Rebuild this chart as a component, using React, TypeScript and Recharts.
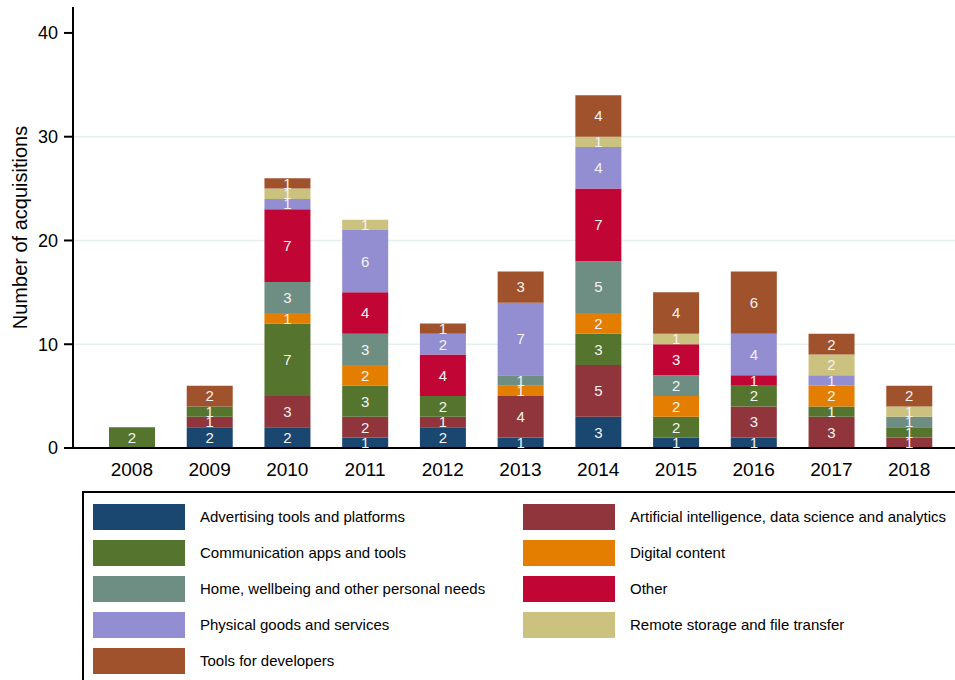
import React from 'react';
import { BarChart, Bar, XAxis, YAxis, CartesianGrid, LabelList } from 'recharts';

const years = ['2008', '2009', '2010', '2011', '2012', '2013', '2014', '2015', '2016', '2017', '2018'];

// one array per category, one value per year (0 = none that year)
const advertising = [0, 2, 2, 1, 2, 1, 3, 1, 1, 0, 0];
const aiData = [0, 1, 3, 2, 1, 4, 5, 0, 3, 3, 1];
const communication = [2, 1, 7, 3, 2, 0, 3, 2, 2, 1, 1];
const digital = [0, 0, 1, 2, 0, 1, 2, 2, 0, 2, 0];
const home = [0, 0, 3, 3, 0, 1, 5, 2, 0, 0, 1];
const other = [0, 0, 7, 4, 4, 0, 7, 3, 1, 0, 0];
const physical = [0, 0, 1, 6, 2, 7, 4, 0, 4, 1, 0];
const remote = [0, 0, 1, 1, 0, 0, 1, 1, 0, 2, 1];
const tools = [0, 2, 1, 0, 1, 3, 4, 4, 6, 2, 2];

const yTicks = [0, 10, 20, 30, 40];

const series = [
  { key: 'adv', name: 'Advertising tools and platforms', color: '#1a476f', values: advertising },
  { key: 'ai', name: 'Artificial intelligence, data science and analytics', color: '#90353b', values: aiData },
  { key: 'comm', name: 'Communication apps and tools', color: '#55752f', values: communication },
  { key: 'digital', name: 'Digital content', color: '#e37e00', values: digital },
  { key: 'home', name: 'Home, wellbeing and other personal needs', color: '#6e8e84', values: home },
  { key: 'other', name: 'Other', color: '#c10534', values: other },
  { key: 'phys', name: 'Physical goods and services', color: '#938dd2', values: physical },
  { key: 'remote', name: 'Remote storage and file transfer', color: '#cac27e', values: remote },
  { key: 'tools', name: 'Tools for developers', color: '#a0522d', values: tools },
];

const data = years.map((year, i) => {
  const row: Record<string, string | number> = { year };
  series.forEach((s) => {
    row[s.key] = s.values[i];
  });
  return row;
});

const font = 'Arial, "Liberation Sans", Helvetica, sans-serif';

export default function App() {
  return (
    <div style={{ position: 'absolute', left: 0, top: 0, width: 955, height: 680, overflow: 'hidden', background: '#fff', fontFamily: font }}>
      <BarChart width={955} height={490} data={data} margin={{ top: 7, right: 0, bottom: 0, left: 0 }}>
        <CartesianGrid vertical={false} stroke="#e6eff0" strokeWidth={1.5} horizontalValues={[10, 20, 30]} />
        <XAxis
          dataKey="year"
          height={42}
          padding={{ left: 20, right: 7 }}
          tickLine={false}
          tickSize={0}
          tickMargin={15}
          axisLine={{ stroke: '#000', strokeWidth: 2 }}
          tick={{ fill: '#000', fontSize: 19, fontFamily: font }}
          interval={0}
        />
        <YAxis
          width={73}
          domain={[0, 42.5]}
          ticks={yTicks}
          allowDataOverflow
          tickSize={9}
          tickMargin={6}
          axisLine={{ stroke: '#000', strokeWidth: 2 }}
          tickLine={{ stroke: '#000', strokeWidth: 2 }}
          tick={{ fill: '#000', fontSize: 18, fontFamily: font }}
          label={{
            value: 'Number of acquisitions',
            angle: -90,
            position: 'insideLeft',
            dx: 15,
            dy: 0,
            style: { textAnchor: 'middle', fontSize: 20, fill: '#000', fontFamily: font },
          }}
        />
        {series.map((s) => (
          <Bar key={s.key} dataKey={s.key} name={s.name} stackId="a" fill={s.color} barSize={46} isAnimationActive={false}>
            <LabelList
              dataKey={s.key}
              position="center"
              formatter={(v: any) => (v ? v : '')}
              style={{ fill: '#f3f3f3', fontSize: 15, fontFamily: font }}
            />
          </Bar>
        ))}
      </BarChart>
      <div
        style={{
          position: 'absolute',
          left: 82,
          top: 491,
          width: 900,
          height: 300,
          border: '2px solid #000',
          boxSizing: 'border-box',
        }}
      />
      {series.map((s, i) => {
        const col = i % 2;
        const row = Math.floor(i / 2);
        const top = 504 + row * 36;
        return (
          <div key={s.key}>
            <div
              style={{
                position: 'absolute',
                left: col === 0 ? 93 : 523,
                top,
                width: 92,
                height: 26,
                background: s.color,
              }}
            />
            <div
              style={{
                position: 'absolute',
                left: col === 0 ? 200 : 630,
                top,
                height: 26,
                lineHeight: '26px',
                fontSize: 15,
                color: '#000',
                whiteSpace: 'nowrap',
              }}
            >
              {s.name}
            </div>
          </div>
        );
      })}
    </div>
  );
}
